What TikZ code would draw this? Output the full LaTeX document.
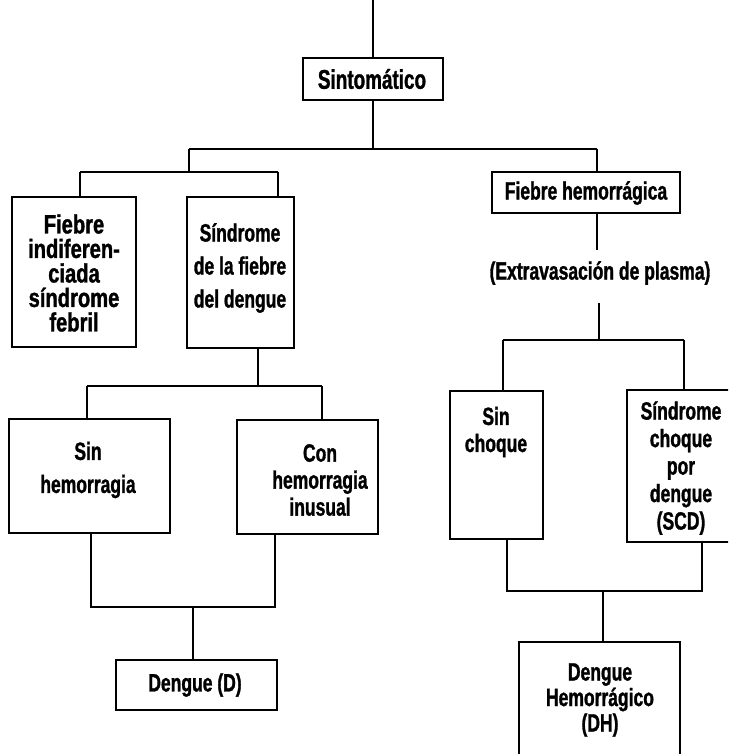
\documentclass[tikz,border=0pt]{standalone}
\usepackage{fontspec}
\newfontfamily\cf[FakeStretch=0.7,FakeBold=1.2]{Liberation Sans}
\newfontfamily\wf[FakeStretch=0.76,FakeBold=1.2]{Liberation Sans}
\tikzset{
  box/.style={draw, line width=1.5pt, inner sep=0pt},
  ln/.style={line width=1.5pt},
  txt/.style={inner sep=0pt, align=center, font=\cf\bfseries\fontsize{25}{27}\selectfont},
}
\begin{document}
\begin{tikzpicture}[x=1pt,y=-1pt]
\clip (0,0) rectangle (728,754);
\fill[white] (0,0) rectangle (728,754);
% boxes
\node[box, minimum width=140pt, minimum height=42pt] (sint) at (373,79) {};
\node[box, minimum width=124pt, minimum height=150pt] (fi) at (74,272) {};
\node[box, minimum width=107pt, minimum height=151pt] (sfd) at (240.5,272.5) {};
\node[box, minimum width=161pt, minimum height=114pt] (sinh) at (89.5,476) {};
\node[box, minimum width=141pt, minimum height=114pt] (conh) at (307.5,477) {};
\node[box, minimum width=161pt, minimum height=50pt] (dd) at (196.5,685) {};
\node[box, minimum width=188pt, minimum height=41pt] (fh) at (586,192.5) {};
\node[box, minimum width=93pt, minimum height=148pt] (sch) at (496.5,465) {};
\node[box, minimum width=113pt, minimum height=152pt] (scd) at (683.5,466) {};
\node[box, minimum width=161pt, minimum height=118pt] (dh) at (599.5,701) {};
% texts
\node[txt, font=\cf\bfseries\fontsize{27}{30}\selectfont] (sintT) at (372,79) {Sintomático};
\node[txt, font=\wf\bfseries\fontsize{26.5}{24.5}\selectfont] (fiT) at (74,273) {Fiebre\\indiferen-\\ciada\\síndrome\\febril};
\node[txt, font=\cf\bfseries\fontsize{25}{33}\selectfont] (sfdT) at (240,268) {Síndrome\\de la fiebre\\del dengue};
\node[txt, font=\cf\bfseries\fontsize{25}{33}\selectfont] (sinhT) at (88,470) {Sin\\hemorragia};
\node[txt] (conhT) at (320,480) {Con\\hemorragia\\inusual};
\node[txt] (ddT) at (195,685) {Dengue (D)};
\node[txt] (fhT) at (586,193) {Fiebre hemorrágica};
\node[txt] (ext) at (600,273) {(Extravasación de plasma)};
\node[txt] (schT) at (496,432) {Sin\\choque};
\node[txt, font=\cf\bfseries\fontsize{25}{27.5}\selectfont] (scdT) at (681,468) {Síndrome\\choque\\por\\dengue\\(SCD)};
\node[txt, font=\cf\bfseries\fontsize{25}{25.5}\selectfont] (dhT) at (600,700) {Dengue\\Hemorrágico\\(DH)};
% junction coordinates
\coordinate (top) at (373,0);
\coordinate (j1) at (373,149);
\coordinate (jl) at (189,149);
\coordinate (jr) at (597,149);
\coordinate (jlb) at (189,172);
\coordinate (a1) at (80,172);
\coordinate (a2) at (278,172);
\coordinate (b0) at (258,386);
\coordinate (b1) at (87,386);
\coordinate (b2) at (322,386);
\coordinate (c0) at (193,607);
\coordinate (c1) at (91,607);
\coordinate (c2) at (275,607);
\coordinate (e0) at (597,250);
\coordinate (e1) at (599,303);
\coordinate (e2) at (599,340);
\coordinate (f1) at (503,340);
\coordinate (f2) at (684,340);
\coordinate (g0) at (603,591);
\coordinate (g1) at (507,591);
\coordinate (g2) at (702,591);
% connectors
\draw[ln] (top) -- (top |- sint.north);
\draw[ln] (sint.south) -- (j1);
\draw[ln] (jl) -- (jr);
\draw[ln] (jl) -- (jlb);
\draw[ln] (a1) -- (a2);
\draw[ln] (a1) -- (a1 |- fi.north);
\draw[ln] (a2) -- (a2 |- sfd.north);
\draw[ln] (b0 |- sfd.south) -- (b0);
\draw[ln] (b1) -- (b2);
\draw[ln] (b1) -- (b1 |- sinh.north);
\draw[ln] (b2) -- (b2 |- conh.north);
\draw[ln] (c1 |- sinh.south) -- (c1) -- (c2) -- (c2 |- conh.south);
\draw[ln] (c0) -- (c0 |- dd.north);
\draw[ln] (jr) -- (jr |- fh.north);
\draw[ln] (e0 |- fh.south) -- (e0);
\draw[ln] (e1) -- (e2);
\draw[ln] (f1) -- (f2);
\draw[ln] (f1) -- (f1 |- sch.north);
\draw[ln] (f2) -- (f2 |- scd.north);
\draw[ln] (g1 |- sch.south) -- (g1) -- (g2) -- (g2 |- scd.south);
\draw[ln] (g0) -- (g0 |- dh.north);
\end{tikzpicture}
\end{document}
